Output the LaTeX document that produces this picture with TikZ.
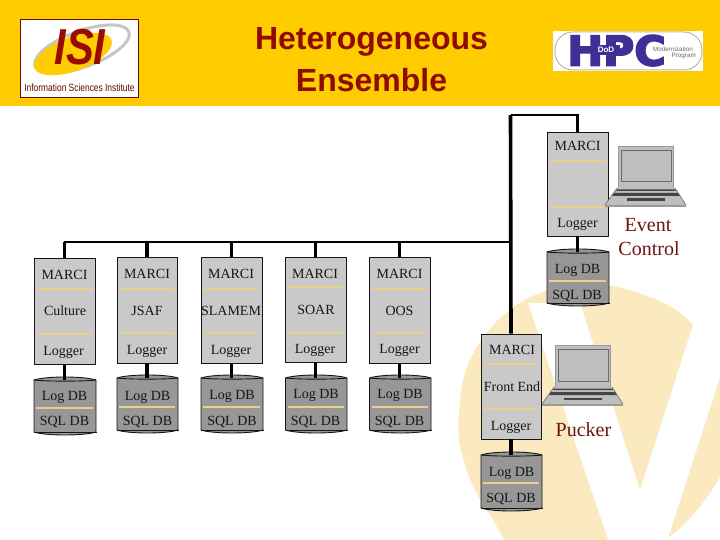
\documentclass[tikz,border=0pt]{standalone}
\usepackage{fontspec}
\setmainfont{Liberation Serif}
\newfontfamily\arialf{Liberation Sans}
\newfontfamily\hpcf[FakeBold=4]{DejaVu Sans Bold}
\usetikzlibrary{shapes.geometric}
\definecolor{hdr}{HTML}{FFCC00}
\definecolor{pale}{HTML}{FBE9BF}
\definecolor{ttl}{HTML}{8F0B00}
\definecolor{lbl}{HTML}{6B1414}
\definecolor{srv}{HTML}{C9C9C9}
\definecolor{dbb}{HTML}{979797}
\definecolor{divc}{HTML}{E8D08A}
\definecolor{ink}{HTML}{161616}
\definecolor{hpc}{HTML}{3F2F96}
\definecolor{lapf}{HTML}{BEBEBE}
\definecolor{lape}{HTML}{9A9A9A}
\definecolor{lapd}{HTML}{6A6A6A}
\definecolor{lapk}{HTML}{454545}
\tikzset{
  x=1pt,y=-1pt,
  srvbox/.style={draw=ink,line width=.9pt,fill=srv,rectangle,inner sep=0pt},
  dbnode/.style={rectangle,inner sep=0pt},
  dbbody/.style={draw=ink,line width=.9pt,fill=dbb},
  dbrim/.style={draw=ink,line width=.9pt},
  divline/.style={divc,line width=1.1pt},
  txt/.style={anchor=base,inner sep=0pt,font=\fontsize{14}{14}\selectfont,text=ink},
  biglbl/.style={anchor=base,inner sep=0pt,font=\fontsize{20}{20}\selectfont,text=lbl},
  ttlnode/.style={anchor=base,inner sep=0pt,font=\arialf\bfseries\fontsize{32}{32}\selectfont,text=ttl},
  link/.style={line width=3.2pt,black},
  busline/.style={line width=2.4pt,black},
  trunk/.style={line width=3.6pt,black},
  laptop/.pic={
    \fill[lapf] (0,0) rectangle (55,42);
    \draw[lape,line width=.8pt] (0,0) rectangle (55,42);
    \draw[lapd,fill=lapf,line width=1pt] (3.7,4.7) rectangle (53,36);
    \fill[lapf] (-1,42) -- (57,42) -- (68,59) -- (-13,59) -- cycle;
    \fill[lape] (-13,59) -- (68,59) -- (68,61) -- (-13,61) -- cycle;
    \fill[lapk] (-1,43.5) -- (57,43.5) -- (58,45) -- (-2,45) -- cycle;
    \fill[lapk] (-4,47) -- (60,47) -- (62,50) -- (-6,50) -- cycle;
    \fill[lapk] (9,52.5) -- (47,52.5) -- (47,55) -- (9,55) -- cycle;
    \draw[lapd,line width=.6pt] (-1,42) -- (-13,59);
    \draw[lapd,line width=.6pt] (57,42) -- (68,59);
  }
}
\newcommand{\srvnode}[7]{% id L R top bot d1 d2
  \node[srvbox,minimum width=#3-#2,minimum height=#5-#4] (#1) at ({(#2+#3)/2},{(#4+#5)/2}) {};
  \draw[divline] ({#2+3},#6) -- ({#3-3},#6);
  \draw[divline] ({#2+3},#7) -- ({#3-3},#7);
}
\newcommand{\dbcyl}[6]{% id L R top bot div
  \path[dbbody] (#2,{#4+3}) .. controls ({#2+12},{#4-1}) and ({#3-12},{#4-1}) .. (#3,{#4+3})
     -- (#3,{#5-3}) .. controls ({#3-12},{#5+1}) and ({#2+12},{#5+1}) .. (#2,{#5-3}) -- cycle;
  \draw[dbrim] (#2,{#4+3}) .. controls ({#2+12},{#4+4.5}) and ({#3-12},{#4+4.5}) .. (#3,{#4+3});
  \draw[dbrim] (#2,{#5-3}) -- ({#3+1},{#5-3});
  \node[dbnode,minimum width=#3-#2,minimum height=#5-#4] (#1) at ({(#2+#3)/2},{(#4+#5)/2}) {};
  \draw[divline] ({#2+2},#6) -- ({#3-3},#6);
}
\newcommand{\bltext}[4]{\node[txt] (#1) at (#2,#3) {#4};}
\begin{document}
\begin{tikzpicture}
\useasboundingbox (0,0) rectangle (720,540);
\clip (0,0) rectangle (720,540);
% watermark
\fill[pale] plot[smooth cycle,tension=.7] coordinates {(590,285) (650,297) (693,325) (723,375) (733,425) (720,477) (668,538) (600,570) (530,566) (490,515) (465,465) (459,413) (475,350) (525,300)};
\fill[white] (528,303) -- (580,303) -- (640,490) -- (700,303) -- (744,303) -- (668,538) -- (660,560) -- (615,560) -- cycle;
% header
\fill[hdr] (0,0) rectangle (720,106);
\node[ttlnode] (t1) at (371.5,50) {Heterogeneous};
\node[ttlnode] (t2) at (371.5,92) {Ensemble};
% ISI logo
\node[draw=ttl!80!black,line width=.9pt,fill=white,rectangle,minimum width=118pt,minimum height=78pt,inner sep=0pt] (isi) at (79.5,58.5) {};
\draw[gray!45,line width=3pt,rotate around={20:(82,49)}] (82,49) ellipse [x radius=50,y radius=18];
\fill[hdr,rotate around={20:(73,54)}] (73,54) ellipse [x radius=41,y radius=17];
\node[anchor=base,inner sep=0pt,xscale=.95,yscale=1.15,font=\arialf\bfseries\itshape\fontsize{44}{44}\selectfont,text=ttl!90!red] (isit) at (80,65) {ISI};
\node[anchor=base,inner sep=0pt,xscale=.8,font=\arialf\fontsize{10.5}{10.5}\selectfont,text=ttl!70!black] (isis) at (79.5,92) {Information Sciences Institute};
% HPC logo
\node[fill=white,rectangle,minimum width=150pt,minimum height=40pt,inner sep=0pt] (hpcbg) at (628,51) {};
\node[draw=gray!55,line width=1pt,rectangle,rounded corners=18pt,minimum width=147pt,minimum height=38pt,inner sep=0pt] (hpcpill) at (628.5,51) {};
\node[anchor=base,inner sep=0pt,xscale=1.04,font=\hpcf\fontsize{41}{41}\selectfont,text=hpc] (hpct) at (616.5,65.5) {HPC};
\fill[hpc] (592,45) rectangle (620,55);
\node[anchor=base,inner sep=0pt,font=\arialf\bfseries\fontsize{8}{8}\selectfont,text=white] (dod) at (606,53) {DoD};
\node[anchor=base east,inner sep=0pt,font=\arialf\fontsize{6.3}{6.3}\selectfont,text=gray!80!black] (hm) at (693,52) {Modernization};
\node[anchor=base east,inner sep=0pt,font=\arialf\fontsize{6.3}{6.3}\selectfont,text=gray!80!black] (hp) at (696,58) {Program};
% servers
\srvnode{s1}{34}{95}{258}{364}{289}{334}
\srvnode{s2}{117}{177}{257}{363}{289}{333}
\srvnode{s3}{201}{262}{257}{363}{289}{333}
\srvnode{s4}{285}{346}{257}{362}{287}{333}
\srvnode{s5}{369}{430}{257}{363}{289}{333}
\srvnode{st}{547}{608}{132}{236}{161}{207}
\srvnode{sf}{481}{541}{334}{439}{364}{409}
% databases
\dbcyl{d1}{34}{96}{377}{435}{408}
\dbcyl{d2}{117}{178}{375}{433}{407}
\dbcyl{d3}{201}{263}{375}{433}{407}
\dbcyl{d4}{285.5}{347}{375}{433}{407}
\dbcyl{d5}{369.5}{431}{375}{433}{407}
\dbcyl{dt}{547}{609}{249}{306}{281}
\dbcyl{df}{481}{542}{452}{511}{483}
% bus coordinates
\coordinate (busL) at (63.5,242);
\coordinate (busR) at (510.5,242);
\coordinate (topL) at (510.5,115);
% connectors
\draw[trunk] (topL) -- (sf.north);
\draw[busline] (topL) -- (topL -| st.north) -- (st.north);
\draw[busline] (busL) -- (busR);
\foreach \n in {s1,s2,s3,s4,s5}{\draw[link] (\n.north) -- (\n.north |- busL);}
\draw[link,shorten >=-3pt] (s1.south) -- (s1.south |- d1.north);
\draw[link,shorten >=-3pt] (s2.south) -- (s2.south |- d2.north);
\draw[link,shorten >=-3pt] (s3.south) -- (s3.south |- d3.north);
\draw[link,shorten >=-3pt] (s4.south) -- (s4.south |- d4.north);
\draw[link,shorten >=-3pt] (s5.south) -- (s5.south |- d5.north);
\draw[link,shorten >=-3pt] (st.south) -- (st.south |- dt.north);
\draw[link,shorten >=-3pt] (sf.south) -- (sf.south |- df.north);
% texts
\bltext{a1}{64.5}{279}{MARCI}\bltext{a2}{65}{315}{Culture}\bltext{a3}{63.5}{355}{Logger}\bltext{a4}{64.5}{400}{Log DB}\bltext{a5}{64.5}{425}{SQL DB}
\bltext{b1}{147}{278}{MARCI}\bltext{b2}{147}{315}{JSAF}\bltext{b3}{147}{354}{Logger}\bltext{b4}{147.5}{400}{Log DB}\bltext{b5}{147.5}{425}{SQL DB}
\bltext{c1}{231}{278}{MARCI}\bltext{c2}{231}{315}{SLAMEM}\bltext{c3}{231}{354}{Logger}\bltext{c4}{232}{399}{Log DB}\bltext{c5}{232}{425}{SQL DB}
\bltext{e1}{315}{278}{MARCI}\bltext{e2}{316}{314}{SOAR}\bltext{e3}{315}{353}{Logger}\bltext{e4}{316}{398.5}{Log DB}\bltext{e5}{315.5}{425}{SQL DB}
\bltext{f1}{399.5}{278}{MARCI}\bltext{f2}{399.5}{315}{OOS}\bltext{f3}{399.5}{353}{Logger}\bltext{f4}{400}{398.5}{Log DB}\bltext{f5}{399.5}{425}{SQL DB}
\bltext{g1}{577.5}{151}{MARCI}\bltext{g3}{577.5}{227}{Logger}\bltext{g4}{577.5}{273}{Log DB}\bltext{g5}{577}{299}{SQL DB}
\bltext{h1}{512}{354}{MARCI}\bltext{h2}{512}{391}{Front End}\bltext{h3}{511}{430}{Logger}\bltext{h4}{511.5}{476}{Log DB}\bltext{h5}{511}{502}{SQL DB}
% laptops
\pic at (618,146) {laptop};
\pic at (555,345) {laptop};
\node[biglbl] (ev) at (648,231) {Event};
\node[biglbl] (ct) at (649,255) {Control};
\node[biglbl] (pk) at (583.5,436) {Pucker};
\end{tikzpicture}
\end{document}
